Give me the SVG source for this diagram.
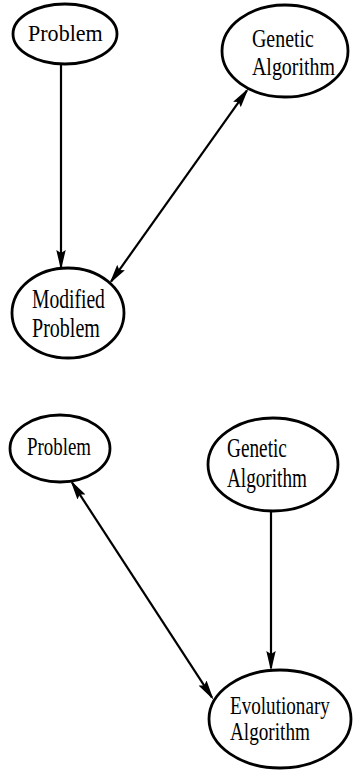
<svg xmlns="http://www.w3.org/2000/svg" width="353" height="771" viewBox="0 0 353 771">
<style>
.node ellipse{fill:#fff;stroke:#000;stroke-width:2.8}
.node text{font-family:"Liberation Serif","Times New Roman",serif;fill:#000}
.edge{fill:none;stroke:#000;stroke-width:2.2}
</style>
<defs>
<marker id="ah" markerUnits="userSpaceOnUse" markerWidth="20" markerHeight="10" refX="17" refY="5" orient="auto-start-reverse" viewBox="0 0 20 10">
<path d="M0,0.3 L20,5 L0,9.7 L3,5 z" fill="#000"/>
</marker>
</defs>
<rect width="353" height="771" fill="#fff"/>
<g id="connectors">
<path class="edge" d="M61,64 L61,267" marker-end="url(#ah)"/>
<path class="edge" d="M246.8,90.6 L111.2,281.4" marker-start="url(#ah)" marker-end="url(#ah)"/>
<path class="edge" d="M72.1,482.7 L211.9,697.3" marker-start="url(#ah)" marker-end="url(#ah)"/>
<path class="edge" d="M271,511 L271,668" marker-end="url(#ah)"/>
</g>
<g id="n1" class="node">
<ellipse cx="65" cy="34" rx="52" ry="30"/>
<text transform="translate(28,41) scale(0.92,1)" font-size="24">Problem</text>
</g>
<g id="n2" class="node">
<ellipse cx="285" cy="51" rx="63" ry="46"/>
<text transform="translate(252,47) scale(0.766,1)" font-size="26">Genetic</text>
<text transform="translate(252,75) scale(0.766,1)" font-size="26">Algorithm</text>
</g>
<g id="n3" class="node">
<ellipse cx="68" cy="313" rx="56" ry="45"/>
<text transform="translate(32,308) scale(0.726,1)" font-size="27">Modified</text>
<text transform="translate(32,337) scale(0.743,1)" font-size="27">Problem</text>
</g>
<g id="n4" class="node">
<ellipse cx="60" cy="448.5" rx="50" ry="33.5"/>
<text transform="translate(27,455) scale(0.726,1)" font-size="26">Problem</text>
</g>
<g id="n5" class="node">
<ellipse cx="273" cy="464.5" rx="65" ry="46.5"/>
<text transform="translate(227,457) scale(0.714,1)" font-size="27">Genetic</text>
<text transform="translate(227,487) scale(0.711,1)" font-size="27">Algorithm</text>
</g>
<g id="n6" class="node">
<ellipse cx="280" cy="719" rx="71" ry="49"/>
<text transform="translate(230,714) scale(0.736,1)" font-size="26">Evolutionary</text>
<text transform="translate(230,740) scale(0.738,1)" font-size="26">Algorithm</text>
</g>
</svg>
